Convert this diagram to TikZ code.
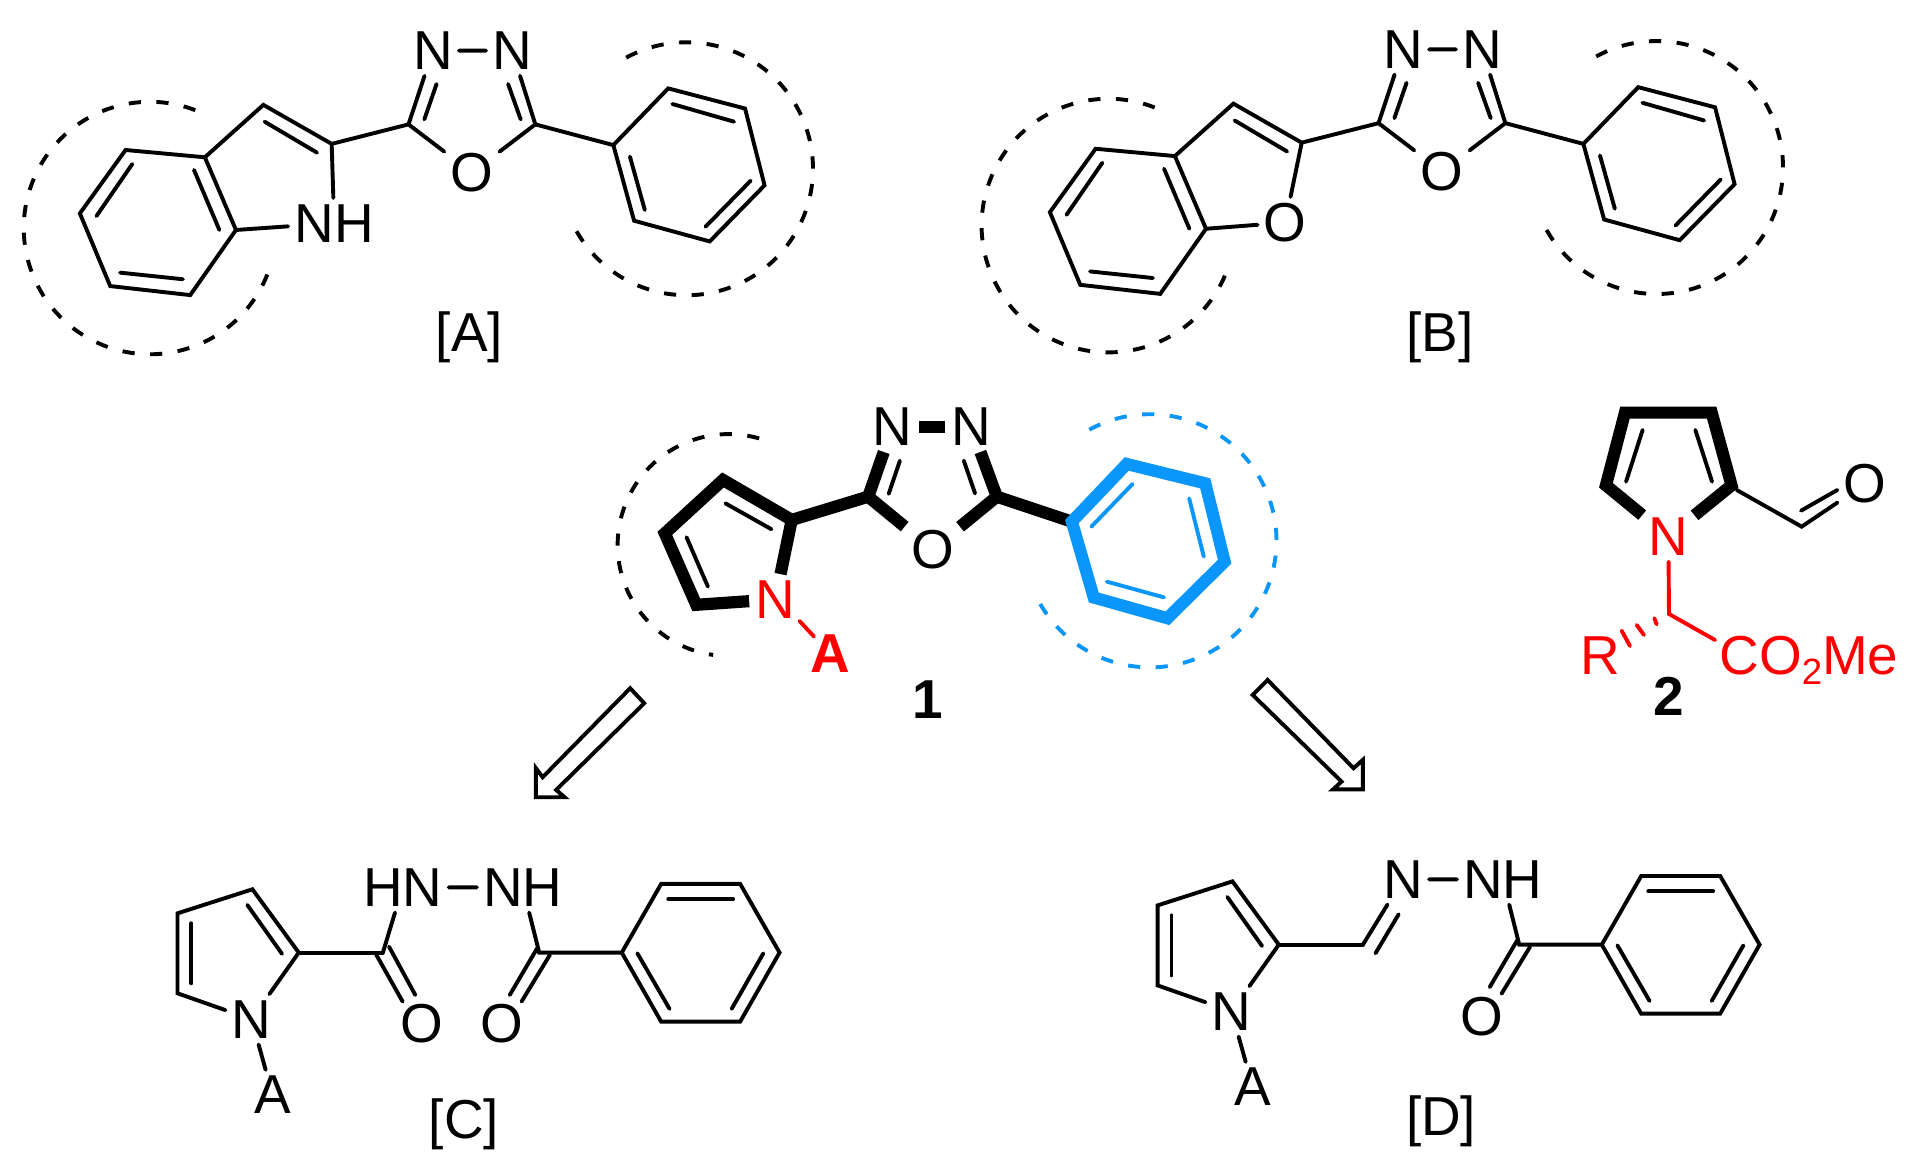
\documentclass[tikz,border=0pt]{standalone}
\usepackage{fontspec}
\setmainfont{Liberation Sans}
\definecolor{chemblue}{HTML}{0A96FA}
\definecolor{chemred}{HTML}{FF0000}
\tikzset{
  atom/.style={inner sep=5pt,font=\fontsize{45}{50}\selectfont},
  tag/.style={inner sep=0pt,font=\fontsize{45}{50}\selectfont},
  boldtag/.style={inner sep=0pt,font=\bfseries\fontsize{45}{50}\selectfont},
  bond/.style={line width=3.2pt,line cap=round,line join=miter},
  thick bond/.style={line width=10pt,line cap=butt,line join=miter},
  inner bond/.style={line width=3.2pt,line cap=round},
  ring dash/.style={line width=3.2pt,dash pattern=on 10pt off 12.7pt},
  retro/.style={line width=3.2pt,line join=miter,fill=white}
}
% arc: centre x, centre y, radius, start, end, options
\newcommand{\dasharc}[6][]{\draw[ring dash,#1] ([shift={(#5:#4pt)}]#2,#3) arc[start angle=#5,end angle=#6,radius=#4pt];}
% fused scaffold of [A] and [B]
\newcommand{\fusedmol}[3]{%
  \coordinate (c4) at (103,123);
  \coordinate (c3a) at (168,129);
  \coordinate (c7a) at (193.5,188.6);
  \coordinate (c7) at (156,242);
  \coordinate (c6) at (90.4,234.6);
  \coordinate (c5) at (65.5,175);
  \coordinate (c3) at (216,86);
  \coordinate (c2) at (272,118);
  \coordinate (ca) at (335,102);
  \coordinate (cb) at (439,102);
  \coordinate (p1) at (503,119);
  \coordinate (p2) at (548,72.5);
  \coordinate (p3) at (611,89);
  \coordinate (p4) at (627,152);
  \coordinate (p5) at (582,198);
  \coordinate (p6) at (520,181);
  \node[atom] (x) at (#2,#3) {#1};
  \node[atom] (n1) at (355,41.5) {N};
  \node[atom] (n2) at (420,41.5) {N};
  \node[atom] (o) at (387,141.6) {O};
  \draw[bond] (c4)--(c3a)--(c7a)--(c7)--(c6)--(c5)--cycle;
  \draw[bond] (c3a)--(c3)--(c2)--(x)--(c7a);
  \draw[bond] (c2)--(ca)--(n1)--(n2)--(cb)--(o)--(ca);
  \draw[bond] (cb)--(p1);
  \draw[bond] (p1)--(p2)--(p3)--(p4)--(p5)--(p6)--cycle;
  \draw[inner bond] (108.5,134.5)--(79.1,177.2);
  \draw[inner bond] (159.1,139.4)--(179.9,188.6);
  \draw[inner bond] (98.5,223.6)--(150,229);
  \draw[inner bond] (217,99.8)--(260,125.2);
  \draw[inner bond] (358,68.9)--(348,97.9);
  \draw[inner bond] (416.7,68.9)--(427,97.9);
  \draw[inner bond] (551.4,85.3)--(602,99.8);
  \draw[inner bond] (516.6,128.5)--(528.8,172.2);
  \draw[inner bond] (615.6,148.2)--(578.6,185.9);
  \dasharc{563}{138.4}{103.7}{118.5}{-151.4}
}
% shared part of [C] and [D]
\newcommand{\hydrazide}{%
  \coordinate (c3) at (207,729.3);
  \coordinate (c4) at (145.6,749);
  \coordinate (c5) at (145.6,814.6);
  \coordinate (c2) at (245,781.2);
  \coordinate (c) at (314,781.2);
  \coordinate (d) at (442.2,781.2);
  \coordinate (p1) at (509.9,781.2);
  \coordinate (p2) at (542.2,724.9);
  \coordinate (p3) at (607,724.9);
  \coordinate (p4) at (639.3,781.2);
  \coordinate (p5) at (607,837.8);
  \coordinate (p6) at (542.2,837.8);
  \node[atom] (n) at (206.3,835.9) {N};
  \node[atom] (a) at (223.6,898) {A};
  \node[atom] (nh) at (428.8,727.7) {NH};
  \node[atom] (o2) at (411.7,839.8) {O};
  \draw[bond] (n)--(c5)--(c4)--(c3)--(c2)--(n);
  \draw[bond] (n)--(a);
  \draw[bond] (c2)--(c);
  \draw[bond] (nh)--(d)--(p1);
  \draw[bond] (p1)--(p2)--(p3)--(p4)--(p5)--(p6)--cycle;
  \draw[inner bond] (202.8,742.1)--(231.3,782.3);
  \draw[inner bond] (157,757.2)--(157,806.4);
  \draw[inner bond] (440.5,777.7)--(418,816);
  \draw[inner bond] (451,783)--(427.7,821.4);
  \draw[inner bond] (548,737.5)--(601.2,737.5);
  \draw[inner bond] (522.7,781.8)--(549.1,827.4);
  \draw[inner bond] (626,781.8)--(600,827.4);
}
\begin{document}
\begin{tikzpicture}[x=1pt,y=-1pt]
\useasboundingbox (0,0) rectangle (1568,963);

% ---------- [A]
\begin{scope}[name prefix=ma-]
  \fusedmol{NH}{274}{183}
  \dasharc{123}{187}{103.5}{69}{339}
  \node[tag] (label) at (385,277) {[A]};
\end{scope}

% ---------- [B]
\begin{scope}[name prefix=mb-,shift={(795.5,-1)}]
  \fusedmol{O}{258.5}{183.6}
  \node[tag] (label) at (385.5,277.7) {[B]};
\end{scope}
\dasharc{909}{185}{104}{68.6}{339}

% ---------- compound 1
\begin{scope}[name prefix=m1-]
  \coordinate (c3) at (592.9,393.6);
  \coordinate (c4) at (545.2,437.4);
  \coordinate (c5) at (571,496);
  \coordinate (c2) at (649.3,426.4);
  \coordinate (ca) at (712,407.3);
  \coordinate (cb) at (817.5,407.3);
  \coordinate (p1) at (879,427.8);
  \coordinate (p2) at (924,380.5);
  \coordinate (p3) at (988.4,396.4);
  \coordinate (p4) at (1004.3,460.6);
  \coordinate (p5) at (957.4,507);
  \coordinate (p6) at (897,490);
  \coordinate (na1) at (655.7,509.3);
  \coordinate (na2) at (667.6,522.1);
  \node[atom,text=chemred] (n) at (635.8,491.5) {N};
  \node[atom] (n1) at (732,350) {N};
  \node[atom] (n2) at (796.4,350) {N};
  \node[atom] (o) at (764.6,450.5) {O};
  \node[boldtag,text=chemred] (a) at (681,535.8) {A};
  \node[boldtag] (num) at (761,573.5) {1};
  \draw[thick bond] (n)--(c5)--(c4)--(c3)--(c2)--(n);
  \draw[thick bond] (c2)--(ca);
  \draw[thick bond] (n1)--(ca)--(o);
  \draw[thick bond] (n2)--(cb)--(o);
  \draw[thick bond] (n1)--(n2);
  \draw[thick bond] (cb)--(p1);
  \draw[thick bond,chemblue] (p1)--(p2)--(p3)--(p4)--(p5)--(p6)--cycle;
  \draw[bond,chemred] (na1)--(na2);
  \draw[inner bond] (594.9,412.8)--(632.6,434);
  \draw[inner bond] (563,440.6)--(580.5,481);
  \draw[inner bond] (738,377.8)--(728.8,405);
  \draw[inner bond] (790.4,377.8)--(799.6,404.6);
  \draw[inner bond,chemblue] (928.8,396.9)--(895,431.9);
  \draw[inner bond,chemblue] (975.2,408.7)--(987.2,456.5);
  \draw[inner bond,chemblue] (954.6,489.9)--(907.7,477);
  \dasharc{597.5}{447}{91}{74}{262}
  \dasharc[chemblue]{943}{443.5}{103.8}{118.6}{-150.6}
\end{scope}

% ---------- compound 2
\begin{scope}[name prefix=m2-]
  \coordinate (c4) at (1332.6,338.4);
  \coordinate (c3) at (1403.7,338.4);
  \coordinate (c5) at (1317,398);
  \coordinate (c2) at (1420,398);
  \coordinate (cho) at (1477.5,431.9);
  \coordinate (ch) at (1368.7,503.5);
  \coordinate (ce) at (1406.5,524.9);
  \node[atom,text=chemred] (n) at (1368.2,440) {N};
  \node[atom] (o) at (1529.5,396.9) {O};
  \node[tag,text=chemred,anchor=base west] (r) at (1296,553) {R};
  \node[tag,text=chemred,anchor=base west] (ester) at (1410,553) {CO\raisebox{-8.5pt}{\fontsize{30}{30}\selectfont 2}Me};
  \node[boldtag] (num) at (1368.2,571.3) {2};
  \draw[thick bond] (n)--(c5)--(c4)--(c3)--(c2)--(n);
  \draw[bond] (1424.2,401.8)--(cho)--(o);
  \draw[inner bond] (1477,418.8)--(1506.8,401.8);
  \draw[bond,chemred] (n)--(ch)--(ce);
  \draw[inner bond,chemred] (1356.7,507)--(1358.6,512);
  \draw[inner bond,chemred] (1342.2,512.5)--(1348.2,520.8);
  \draw[inner bond,chemred] (1329.9,517.2)--(1336.7,529.8);
  \draw[inner bond] (1347.1,352.6)--(1333.5,395);
  \draw[inner bond] (1390.3,352.6)--(1404,395);
\end{scope}

% ---------- retro arrows
\draw[retro] (516.8,564.4)--(528.3,576.7)--(456.1,647.8)--(463,653.8)--(439.5,653.8)--(439.5,630)--(445,637.4)--cycle;
\draw[retro] (1039.5,557.6)--(1027.3,569.9)--(1100.2,641)--(1093.3,647.3)--(1117.6,647.3)--(1117.6,623.2)--(1110,630)--cycle;

% ---------- [C]
\begin{scope}[name prefix=mc-]
  \hydrazide
  \node[atom] (hn) at (330.2,727.7) {HN};
  \node[atom] (o1) at (346.1,839.8) {O};
  \draw[bond] (c)--(hn)--(nh);
  \draw[inner bond] (308.6,783)--(330.2,821.4);
  \draw[inner bond] (319,776.3)--(340.6,816);
  \node[tag] (label) at (380.5,922) {[C]};
\end{scope}

% ---------- [D]
\begin{scope}[name prefix=md-,shift={(803.7,-6.5)}]
  \hydrazide
  \node[atom] (im) at (346.8,727.6) {N};
  \draw[bond] (c)--(im)--(nh);
  \draw[inner bond] (324.3,788.3)--(343.3,756.3);
  \node[tag] (label) at (378.1,926.4) {[D]};
\end{scope}
\end{tikzpicture}
\end{document}
